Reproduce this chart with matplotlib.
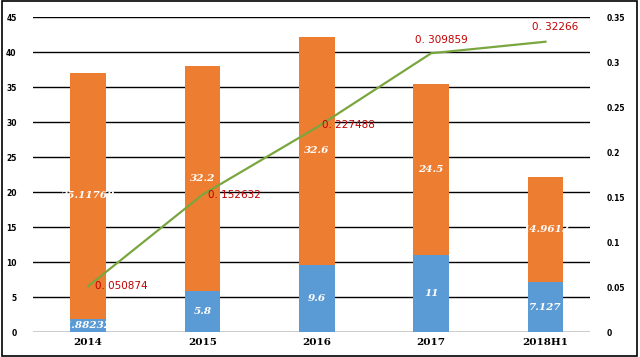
import matplotlib.pyplot as plt
from matplotlib.patches import Rectangle

years = ["2014", "2015", "2016", "2017", "2018H1"]
blue_vals = [1.88232, 5.8, 9.6, 11, 7.127]
orange_vals = [35.11768, 32.2, 32.6, 24.5, 14.9613]
blue_labels = ["1.88232", "5.8", "9.6", "11", "7.127"]
orange_labels = ["35.11768", "32.2", "32.6", "24.5", "14.9613"]
ratio = [0.050874, 0.152632, 0.227488, 0.309859, 0.32266]
ratio_labels = ["0. 050874", "0. 152632", "0. 227488", "0. 309859", "0. 32266"]

BLUE = "#5B9BD5"
ORANGE = "#ED7D31"
GREEN = "#7AA63F"
RED = "#C00000"

fig = plt.figure(figsize=(6.4, 3.57), dpi=100)
ax = fig.add_axes([0.052, 0.070, 0.870, 0.882])
x = list(range(len(years)))

ax.set_axisbelow(True)
ax.grid(axis="y", color="black", linewidth=1.0)
ax.bar(x, blue_vals, width=0.31, color=BLUE, zorder=2)
ax.bar(x, orange_vals, bottom=blue_vals, width=0.31, color=ORANGE, zorder=2)

lab = dict(color="white", fontsize=7.5, style="italic", fontweight="bold",
           ha="center", va="center", family="DejaVu Serif", zorder=3)
for i in x:
    ax.text(i, blue_vals[i] / 2, blue_labels[i], **lab)
    ax.text(i, blue_vals[i] + orange_vals[i] / 2, orange_labels[i], **lab)

ax.set_ylim(0, 45)
ax.set_yticks(range(0, 46, 5))
ax.set_xlim(-0.48, 4.39)
ax.set_xticks(x)
ax.set_xticklabels(years, family="DejaVu Serif", fontweight="bold", fontsize=7.5)
for s in ax.spines.values():
    s.set_visible(False)
ax.tick_params(axis="both", length=0)
ax.tick_params(axis="y", labelsize=5.5, pad=12)
ax.tick_params(axis="x", pad=4)
for t in ax.get_yticklabels():
    t.set_fontweight("bold")

ax2 = ax.twinx()
ax2.plot(x, ratio, color=GREEN, linewidth=1.6, zorder=4)
ax2.set_ylim(0, 0.35)
ax2.set_yticks([0, 0.05, 0.1, 0.15, 0.2, 0.25, 0.3, 0.35])
ax2.set_yticklabels(["0", "0.05", "0.1", "0.15", "0.2", "0.25", "0.3", "0.35"])
for s in ax2.spines.values():
    s.set_visible(False)
ax2.tick_params(axis="y", length=0, labelsize=5.5, pad=12)
for t in ax2.get_yticklabels():
    t.set_fontweight("bold")

offsets = [(5, 0, "left", "center"), (4, 0, "left", "center"), (4, 2, "left", "center"),
           (7, 6, "center", "bottom"), (7, 7, "center", "bottom")]
for i in x:
    dx, dy, ha, va = offsets[i]
    ax2.annotate(ratio_labels[i], (i, ratio[i]), xytext=(dx, dy), textcoords="offset points",
                 ha=ha, va=va, color=RED, fontsize=7.5, family="DejaVu Sans", zorder=5)

fig.patches.append(Rectangle((0.003, 0.004), 0.993, 0.993, transform=fig.transFigure,
                             fill=False, edgecolor="black", linewidth=1.2))

fig.savefig("out.png", dpi=100)
